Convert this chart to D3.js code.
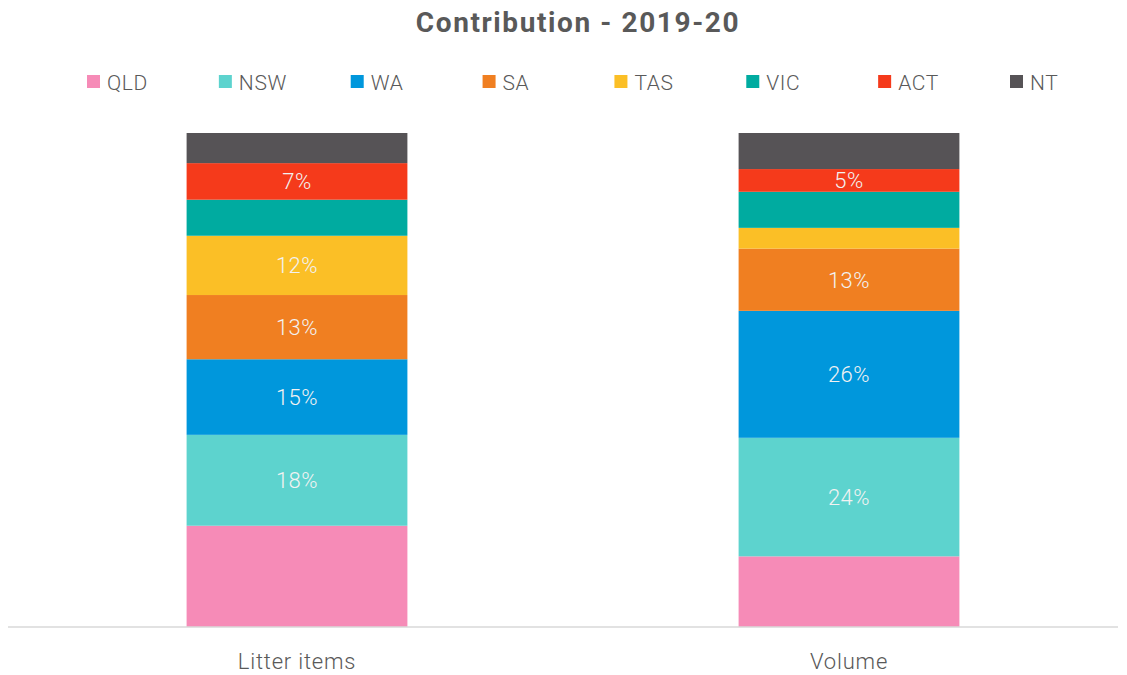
<!DOCTYPE html>
<html>
<head>
<meta charset="utf-8">
<script src="https://cdn.jsdelivr.net/npm/d3@7"></script>
<style>
  body { margin: 0; background: #fff; }
  text { font-family: Roboto, "DejaVu Sans", sans-serif; }
</style>
</head>
<body>
<div id="chart"></div>
<script>
// data
var categories = ['Litter items', 'Volume'];
var states = ['QLD', 'NSW', 'WA', 'SA', 'TAS', 'VIC', 'ACT', 'NT'];
var litterItems = [20.5, 18.4, 15.3, 13.0, 12.0, 7.3, 7.4, 6.1];
var volume = [14.3, 24.0, 25.7, 12.6, 4.2, 7.3, 4.6, 7.3];
// which segments carry a data label
var litterLabelled = ['NSW', 'WA', 'SA', 'TAS', 'ACT'];
var volumeLabelled = ['NSW', 'WA', 'SA', 'ACT'];
var colors = ['#f68bb7', '#5dd3ce', '#0097dc', '#f07f21', '#fbbf26', '#00aba0', '#f53a1b', '#565356'];

var width = 1127, height = 675;

var svg = d3.select('#chart').append('svg')
    .attr('width', width)
    .attr('height', height);

var rows = categories.map(function(c, i) {
    var src = i === 0 ? litterItems : volume;
    var row = { category: c, labelled: i === 0 ? litterLabelled : volumeLabelled };
    states.forEach(function(s, j) { row[s] = src[j]; });
    return row;
});

var series = d3.stack().keys(states)(rows);

var x = d3.scaleBand()
    .domain(categories)
    .range([21, 1125])
    .paddingInner(0.6)
    .paddingOuter(0.3);

var y = d3.scaleLinear()
    .domain([0, 100])
    .range([627, 133]);

var color = d3.scaleOrdinal().domain(states).range(colors);

// title
svg.append('text')
    .attr('x', 578)
    .attr('y', 32)
    .attr('text-anchor', 'middle')
    .style('font-size', '28px')
    .style('font-weight', 'bold')
    .style('letter-spacing', '1.6px')
    .style('fill', '#595959')
    .text('Contribution - 2019-20');

// legend
var lx = d3.scalePoint().domain(states).range([87, 1010]);
var legend = svg.append('g').selectAll('g')
    .data(states)
    .enter().append('g')
    .attr('transform', (d) => `translate(${lx(d)}, 82)`);

legend.append('rect')
    .attr('x', 0)
    .attr('y', -7)
    .attr('width', 13)
    .attr('height', 13)
    .style('fill', (d) => color(d));

legend.append('text')
    .attr('x', 20)
    .attr('dy', '0.36em')
    .style('font-size', '21px')
    .style('font-weight', 300)
    .style('letter-spacing', '0.6px')
    .style('fill', '#595959')
    .text((d) => d);

// bars
var layer = svg.append('g').selectAll('g')
    .data(series)
    .enter().append('g')
    .style('fill', (d) => color(d.key));

layer.selectAll('rect')
    .data((d) => d)
    .enter().append('rect')
    .attr('x', (d) => x(d.data.category))
    .attr('y', (d) => y(d[1]))
    .attr('width', x.bandwidth())
    .attr('height', (d) => y(d[0]) - y(d[1]));

// data labels
series.forEach(function(s) {
    svg.append('g').selectAll('text')
        .data(s.filter((d) => d.data.labelled.indexOf(s.key) >= 0))
        .enter().append('text')
        .attr('x', (d) => x(d.data.category) + x.bandwidth() / 2)
        .attr('y', (d) => y((d[0] + d[1]) / 2))
        .attr('dy', '0.36em')
        .attr('text-anchor', 'middle')
        .style('font-size', '22px')
        .style('font-weight', 300)
        .style('letter-spacing', '0.5px')
        .style('fill', '#f2f2f2')
        .text((d) => Math.round(d[1] - d[0]) + '%');
});

// category axis
var axis = svg.append('g')
    .attr('transform', 'translate(0, 627)')
    .call(d3.axisBottom(x).tickSize(0).tickPadding(26));

axis.select('.domain').remove();
axis.append('line')
    .attr('x1', 8)
    .attr('x2', 1118)
    .style('stroke', '#d9d9d9')
    .style('stroke-width', 1.5);
axis.selectAll('.tick text')
    .style('font-family', 'Roboto, sans-serif')
    .style('font-size', '22px')
    .style('font-weight', 300)
    .style('letter-spacing', '0.8px')
    .style('fill', '#595959');
</script>
</body>
</html>
